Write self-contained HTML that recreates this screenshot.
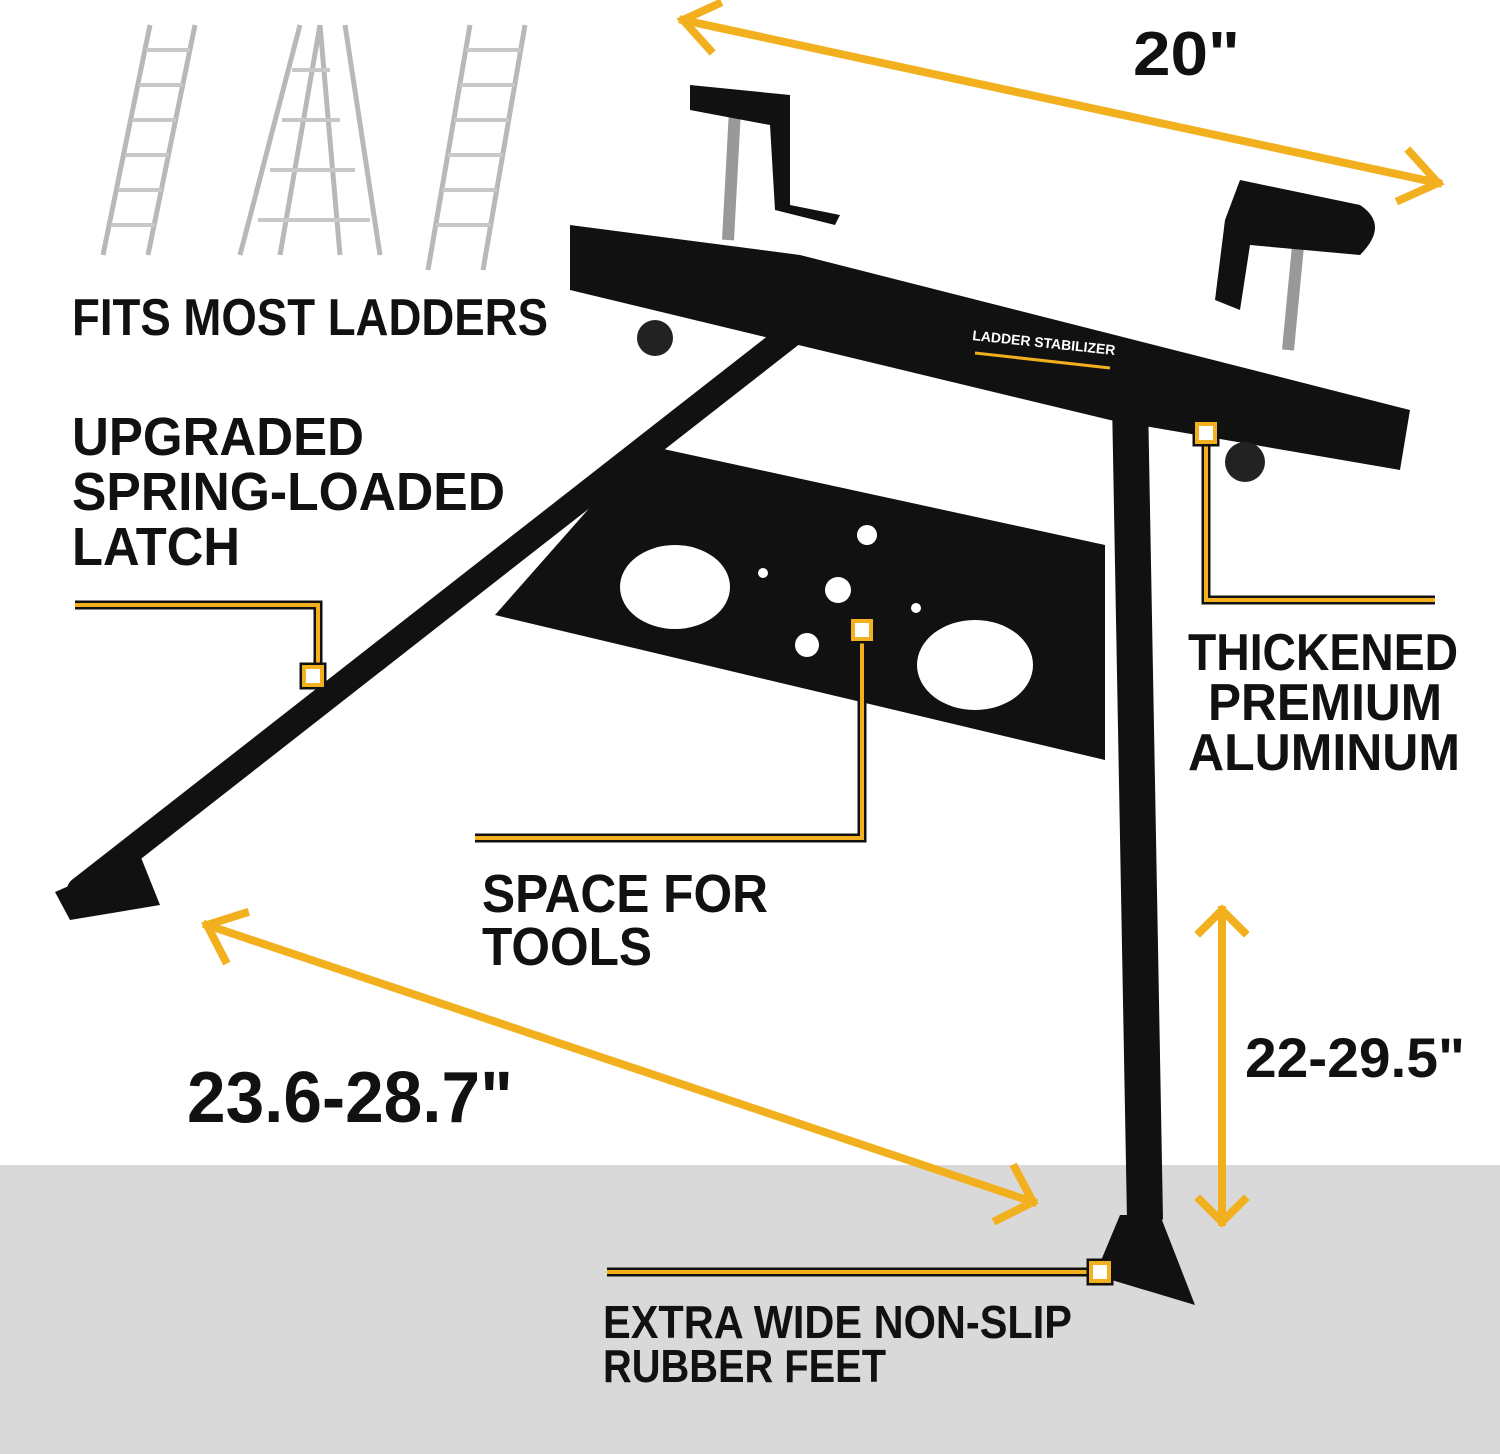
<!DOCTYPE html>
<html><head><meta charset="utf-8"><style>
html,body{margin:0;padding:0;background:#fff;}
svg{display:block;}
text{font-family:"Liberation Sans",sans-serif;font-weight:bold;fill:#111;}
</style></head><body>
<svg width="1500" height="1454" viewBox="0 0 1500 1454" xmlns="http://www.w3.org/2000/svg">
<rect x="0" y="1165" width="1500" height="289" fill="#d9d9d9"/>

<!-- ladders -->
<g stroke="#b8b8b8" stroke-width="5" fill="none">
  <line x1="150" y1="25" x2="103" y2="255"/><line x1="195" y1="25" x2="148" y2="255"/>
  <line x1="300" y1="25" x2="240" y2="255"/><line x1="320" y1="25" x2="280" y2="255"/>
  <line x1="320" y1="25" x2="340" y2="255"/><line x1="345" y1="25" x2="380" y2="255"/>
  <line x1="470" y1="25" x2="428" y2="270"/><line x1="525" y1="25" x2="483" y2="270"/>
</g>
<g stroke="#c8c8c8" stroke-width="4">
  <line x1="146" y1="50" x2="190" y2="50"/><line x1="139" y1="85" x2="183" y2="85"/><line x1="132" y1="120" x2="176" y2="120"/><line x1="125" y1="155" x2="169" y2="155"/><line x1="118" y1="190" x2="162" y2="190"/><line x1="111" y1="225" x2="155" y2="225"/>
  <line x1="466" y1="50" x2="521" y2="50"/><line x1="460" y1="85" x2="515" y2="85"/><line x1="454" y1="120" x2="509" y2="120"/><line x1="448" y1="155" x2="503" y2="155"/><line x1="442" y1="190" x2="497" y2="190"/><line x1="436" y1="225" x2="491" y2="225"/>
  <line x1="292" y1="70" x2="330" y2="70"/><line x1="282" y1="120" x2="340" y2="120"/><line x1="270" y1="170" x2="355" y2="170"/><line x1="258" y1="220" x2="370" y2="220"/>
</g>

<!-- plate -->
<polygon points="645,445 1105,545 1105,760 495,615" fill="#111"/>
<g fill="#fff">
  <ellipse cx="675" cy="587" rx="55" ry="42"/>
  <ellipse cx="975" cy="665" rx="58" ry="45"/>
  <circle cx="867" cy="535" r="10"/><circle cx="838" cy="590" r="13"/>
  <circle cx="807" cy="645" r="12"/><circle cx="763" cy="573" r="5"/><circle cx="916" cy="608" r="5"/>
</g>
<!-- legs -->
<line x1="790" y1="335" x2="80" y2="890" stroke="#111" stroke-width="26" stroke-linecap="round"/>
<polygon points="55,892 140,855 160,905 70,920" fill="#111"/>
<line x1="1130" y1="400" x2="1145" y2="1220" stroke="#111" stroke-width="36"/>
<polygon points="1120,1215 1160,1215 1195,1305 1095,1275" fill="#111"/>
<!-- clamps -->
<line x1="735" y1="110" x2="728" y2="240" stroke="#999" stroke-width="12"/>
<line x1="1300" y1="225" x2="1288" y2="350" stroke="#999" stroke-width="12"/>
<path d="M690,85 L790,95 L790,205 L840,215 L835,225 L775,210 L770,125 L690,110 Z" fill="#111"/>
<path d="M1240,180 L1360,205 Q1390,225 1360,255 L1250,245 L1240,310 L1215,300 L1225,220 Z" fill="#111"/>
<polygon points="570,225 800,255 1410,410 1400,470 1110,420 570,290" fill="#111"/>
<text x="972" y="340" font-size="14" style="fill:#fff" transform="rotate(6 972 340)">LADDER STABILIZER</text>
<line x1="975" y1="353" x2="1110" y2="368" stroke="#f2b01e" stroke-width="3"/>
<circle cx="655" cy="338" r="18" fill="#222"/><circle cx="1245" cy="462" r="20" fill="#222"/>

<!-- yellow arrows -->
<g stroke="#f2b01e" stroke-width="8" fill="none" stroke-linecap="square">
  <line x1="683" y1="20" x2="1438" y2="183"/>
  <polyline points="718,4 683,20 710,50"/>
  <polyline points="1410,152 1438,183 1400,200"/>
  <line x1="207" y1="925" x2="1033" y2="1202"/>
  <polyline points="245,913 207,925 225,960"/>
  <polyline points="1015,1168 1033,1202 997,1220"/>
  <line x1="1222" y1="910" x2="1222" y2="1222"/>
  <polyline points="1200,932 1222,910 1244,932"/>
  <polyline points="1200,1200 1222,1222 1244,1200"/>
</g>
<!-- callout lines -->
<g stroke="#111" stroke-width="9" fill="none">
  <polyline points="75,605 318,605 318,670"/>
  <polyline points="862,636 862,838 475,838"/>
  <polyline points="1206,440 1206,600 1435,600"/>
  <polyline points="607,1272 1094,1272"/>
</g>
<g stroke="#f2b01e" stroke-width="4" fill="none">
  <polyline points="75,605 318,605 318,670"/>
  <polyline points="862,636 862,838 475,838"/>
  <polyline points="1206,440 1206,600 1435,600"/>
  <polyline points="607,1272 1094,1272"/>
</g>
<g fill="#fff" stroke="#111" stroke-width="9">
  <rect x="304" y="667" width="18" height="18"/>
  <rect x="853" y="621" width="18" height="18"/>
  <rect x="1197" y="424" width="18" height="18"/>
  <rect x="1091" y="1263" width="18" height="18"/>
</g>
<g fill="#fff" stroke="#f2b01e" stroke-width="4">
  <rect x="304" y="667" width="18" height="18"/>
  <rect x="853" y="621" width="18" height="18"/>
  <rect x="1197" y="424" width="18" height="18"/>
  <rect x="1091" y="1263" width="18" height="18"/>
</g>

<!-- labels -->
<text x="1133" y="75" font-size="62" textLength="107" lengthAdjust="spacingAndGlyphs">20"</text>
<text x="72" y="335" font-size="52" textLength="476" lengthAdjust="spacingAndGlyphs">FITS MOST LADDERS</text>
<text x="72" y="455" font-size="54" textLength="292" lengthAdjust="spacingAndGlyphs">UPGRADED</text>
<text x="72" y="510" font-size="54" textLength="433" lengthAdjust="spacingAndGlyphs">SPRING-LOADED</text>
<text x="72" y="565" font-size="54" textLength="168" lengthAdjust="spacingAndGlyphs">LATCH</text>
<text x="1188" y="670" font-size="52" textLength="270" lengthAdjust="spacingAndGlyphs">THICKENED</text>
<text x="1208" y="720" font-size="52" textLength="234" lengthAdjust="spacingAndGlyphs">PREMIUM</text>
<text x="1188" y="770" font-size="52" textLength="272" lengthAdjust="spacingAndGlyphs">ALUMINUM</text>
<text x="482" y="912" font-size="54" textLength="286" lengthAdjust="spacingAndGlyphs">SPACE FOR</text>
<text x="482" y="965" font-size="54" textLength="170" lengthAdjust="spacingAndGlyphs">TOOLS</text>
<text x="187" y="1122" font-size="72" textLength="326" lengthAdjust="spacingAndGlyphs">23.6-28.7"</text>
<text x="1245" y="1077" font-size="56" textLength="220" lengthAdjust="spacingAndGlyphs">22-29.5"</text>
<text x="603" y="1338" font-size="46" textLength="469" lengthAdjust="spacingAndGlyphs">EXTRA WIDE NON-SLIP</text>
<text x="603" y="1382" font-size="46" textLength="283" lengthAdjust="spacingAndGlyphs">RUBBER FEET</text>
</svg>
</body></html>
